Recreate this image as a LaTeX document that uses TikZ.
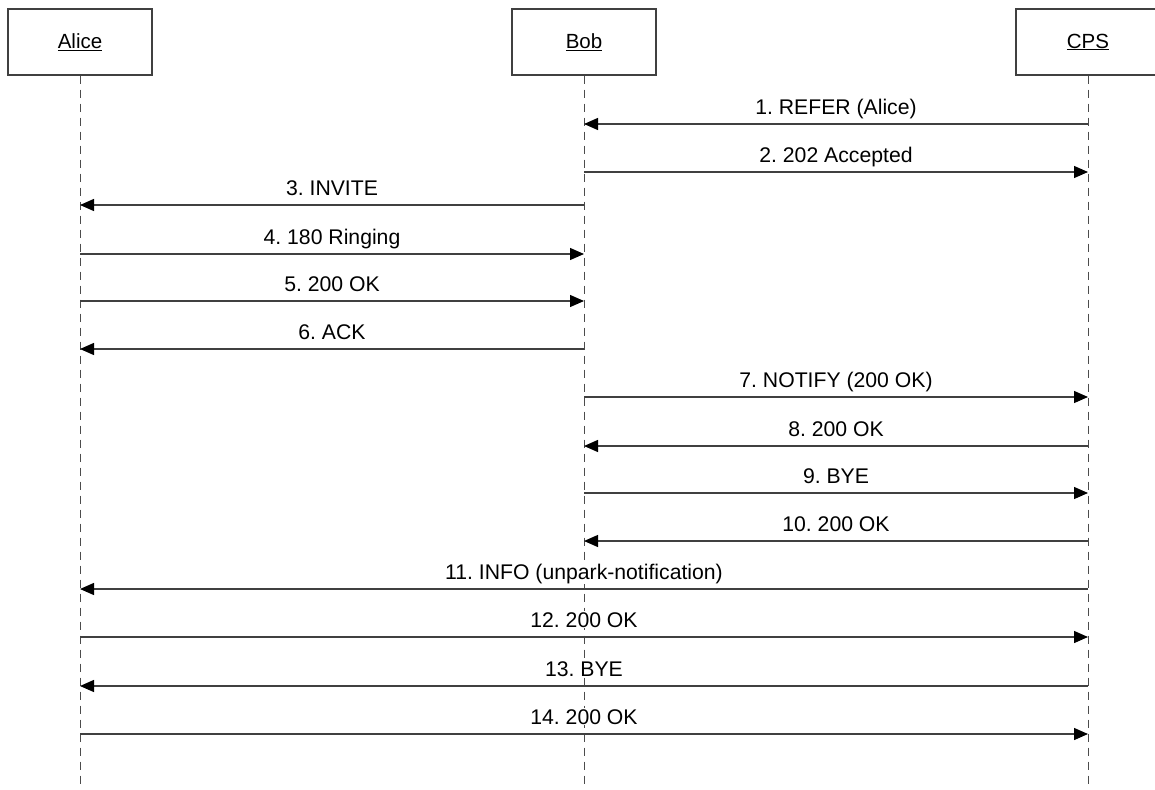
\documentclass[tikz,border=0pt]{standalone}
\usepackage{fontspec}
\setmainfont{Liberation Sans}
\usetikzlibrary{arrows.meta}

\begin{document}
\frenchspacing
\begin{tikzpicture}[x=1pt,y=-1pt,
  party/.style={draw=black!75,line width=1.2pt,minimum width=144pt,minimum height=66pt,inner sep=0pt,font=\fontsize{20.5}{24}\selectfont},
  life/.style={draw=black!70,line width=1pt,dash pattern=on 8pt off 6pt},
  msg/.style={draw=black!75,line width=1.3pt,-{Triangle[length=14pt,width=12pt,color=black]}},
  lbl/.style={anchor=base,fill=white,inner xsep=2pt,inner ysep=1pt,yshift=10pt,font=\fontsize{21.2}{24}\selectfont}]
\useasboundingbox (0,0) rectangle (1155,789);

\node[party] (alice) at (80,42)   {\underline{Alice}};
\node[party] (bob)   at (584,42)  {\underline{Bob}};
\node[party] (cps)   at (1088,42) {\underline{CPS}};

\coordinate (aend) at (80,789);
\coordinate (bend) at (584,789);
\coordinate (cend) at (1088,789);

\draw[life] (alice) -- (aend);
\draw[life] (bob) -- (bend);
\draw[life] (cps) -- (cend);

% points on the lifelines
\foreach \n/\y in {1/124,2/172,3/205,4/254,5/301,6/349,7/397,8/446,9/493,10/541,11/589,12/637,13/686,14/734}{
  \coordinate (a\n) at (80,\y);
  \coordinate (b\n) at (584,\y);
  \coordinate (c\n) at (1088,\y);
}

\draw[msg] (c1) -- node[lbl] {1. REFER (Alice)} (b1);
\draw[msg] (b2) -- node[lbl] {2. 202 Accepted} (c2);
\draw[msg] (b3) -- node[lbl] {3. INVITE} (a3);
\draw[msg] (a4) -- node[lbl] {4. 180 Ringing} (b4);
\draw[msg] (a5) -- node[lbl] {5. 200 OK} (b5);
\draw[msg] (b6) -- node[lbl] {6. ACK} (a6);
\draw[msg] (b7) -- node[lbl] {7. NOTIFY (200 OK)} (c7);
\draw[msg] (c8) -- node[lbl] {8. 200 OK} (b8);
\draw[msg] (b9) -- node[lbl] {9. BYE} (c9);
\draw[msg] (c10) -- node[lbl] {10. 200 OK} (b10);
\draw[msg] (c11) -- node[lbl] {11. INFO (unpark-notification)} (a11);
\draw[msg] (a12) -- node[lbl] {12. 200 OK} (c12);
\draw[msg] (c13) -- node[lbl] {13. BYE} (a13);
\draw[msg] (a14) -- node[lbl] {14. 200 OK} (c14);

\end{tikzpicture}
\end{document}
